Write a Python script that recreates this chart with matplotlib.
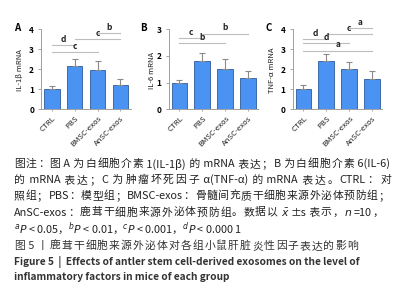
import re

import matplotlib
matplotlib.use('Agg')
import matplotlib.pyplot as plt
import numpy as np

plt.rcParams['font.family'] = ['Noto Sans CJK SC', 'DejaVu Sans']
plt.rcParams['mathtext.fontset'] = 'dejavusans'

W, H = 398, 300

groups = ['CTRL', 'PBS', 'BMSC-exos', 'AnSC-exos']

il1b_mean = [1.0, 2.17, 1.95, 1.24]
il1b_err = [0.18, 0.33, 0.49, 0.29]
il1b_sig = [(0, 1, 3.2, 'd'), (0, 2, 2.85, 'c'), (1, 3, 3.5, 'c'), (2, 3, 3.8, 'b')]

il6_mean = [0.98, 1.8, 1.53, 1.19]
il6_err = [0.11, 0.3, 0.34, 0.25]
il6_sig = [(0, 1, 2.66, 'c'), (0, 2, 2.47, 'b'), (1, 3, 2.82, 'b')]

tnf_mean = [1.0, 2.4, 2.04, 1.5]
tnf_err = [0.24, 0.37, 0.34, 0.41]
tnf_sig = [(0, 1, 3.5, 'd'), (0, 2, 3.3, 'd'), (0, 3, 2.93, 'a'),
           (1, 3, 3.75, 'c'), (2, 3, 4.05, 'a')]

panels = [
    ('A', 'IL-1β mRNA', il1b_mean, il1b_err, il1b_sig, 4, 41, 17, 20),
    ('B', 'IL-6 mRNA', il6_mean, il6_err, il6_sig, 3, 168.5, 143, 152),
    ('C', 'TNF-α mRNA', tnf_mean, tnf_err, tnf_sig, 4, 292.5, 269, 272),
]

# caption lines: (text, y px, right edge px or None if not justified)
caption_lines = [
    ('图注：图 A 为白细胞介素 1(IL-1β) 的 mRNA 表达；B 为白细胞介素 6(IL-6)', 164, 390),
    ('的 mRNA 表达；C 为肿瘤坏死因子 α(TNF-α) 的 mRNA 表达。CTRL：对', 180, 391),
    ('照组；PBS：模型组；BMSC-exos：骨髓间充质干细胞来源外泌体预防组；', 196, 389),
    (r'AnSC-exos：鹿茸干细胞来源外泌体预防组。数据以 $\bar{x}$±s 表示，$n$=10，', 212.5, 383),
    (r'$^{a}P$ < 0.05，$^{b}P$ < 0.01，$^{c}P$ < 0.001，$^{d}P$ < 0.000 1', 229, None),
]
title_cn = '图 5 丨鹿茸干细胞来源外泌体对各组小鼠肝脏炎性因子表达的影响'
title_en = ['Figure 5  |  Effects of antler stem cell-derived exosomes on the level of',
            'inflammatory factors in mice of each group']

fig = plt.figure(figsize=(W / 100, H / 100), dpi=100)
renderer = fig.canvas.get_renderer()


def justified_text(text, x0, x1, y, **kw):
    """Draw text spread between x0 and x1 (pixels), CJK style spacing."""
    tokens = re.findall(r'\s*(?:\$[^$]*\$|[A-Za-z0-9()\-.=±βα<]+|.)', text)
    widths = []
    for tok in tokens:
        t = fig.text(0, 0, tok, **kw)
        widths.append(t.get_window_extent(renderer).width)
        t.remove()
    gap = (x1 - x0 - sum(widths)) / max(len(tokens) - 1, 1)
    xx = x0
    for tok, w in zip(tokens, widths):
        fig.text(xx / W, 1 - y / H, tok, ha='left', va='center', **kw)
        xx += w + gap


x = np.arange(len(groups))
ax_w = 89.6
y0_px, ytop_px = 109.3, 29.3

for letter, ylabel, mean, err, sig, ymax, left_px, let_x, lab_x in panels:
    ax = fig.add_axes([left_px / W, 1 - y0_px / H, ax_w / W, (y0_px - ytop_px) / H])
    ax.bar(x, mean, width=0.68, color='#4b93f2', edgecolor='#2c5c9e', linewidth=0.6)
    ax.errorbar(x, mean, yerr=[np.zeros(len(err)), err], fmt='none',
                ecolor='#8a8a8a', elinewidth=0.8, capsize=2.5, capthick=0.8)
    ax.set_xlim(-0.48, 3.45)
    ax.set_ylim(0, ymax)
    ax.set_yticks(range(ymax + 1))
    ax.set_xticks(x)
    ax.set_xticklabels(groups, rotation=45, ha='right', va='top',
                       rotation_mode='anchor', fontsize=5.6, color='#222222')
    ax.tick_params(axis='y', labelsize=6, length=2, width=0.6, color='#999999', pad=3)
    ax.tick_params(axis='x', length=1.5, width=0.6, color='#999999', pad=2)
    for lab in ax.get_yticklabels():
        lab.set_fontweight('bold')
    for s in ['top', 'right']:
        ax.spines[s].set_visible(False)
    for s in ['left', 'bottom']:
        ax.spines[s].set_color('#a0a0a0')
        ax.spines[s].set_linewidth(0.7)

    for i, j, h, lab in sig:
        ax.plot([x[i], x[j]], [h, h], color='#bdbdbd', linewidth=0.8, clip_on=False)
        ax.text((x[i] + x[j]) / 2, h + 0.02 * ymax, lab, ha='center', va='bottom',
                fontsize=6, fontweight='bold', color='#222222', clip_on=False)

    fig.text(let_x / W, 1 - 28 / H, letter, fontsize=7, fontweight='bold',
             ha='center', va='center')
    fig.text(lab_x / W, 1 - 70 / H, ylabel, fontsize=5.5, rotation=90,
             ha='center', va='center', color='#222222')

for line, yy, right in caption_lines:
    if right is None:
        fig.text(14 / W, 1 - yy / H, line, fontsize=7.8, color='#222222',
                 ha='left', va='center')
    else:
        justified_text(line, 14, right, yy, fontsize=7.8, color='#222222')

justified_text(title_cn, 14, 358, 246, fontsize=7.8, color='#333333')
fig.text(14 / W, 1 - 261.5 / H, title_en[0], fontsize=7.3, fontweight='bold',
         color='#333333', ha='left', va='center')
fig.text(14 / W, 1 - 277 / H, title_en[1], fontsize=7.3, fontweight='bold',
         color='#333333', ha='left', va='center')

fig.savefig('out.png', dpi=100)
